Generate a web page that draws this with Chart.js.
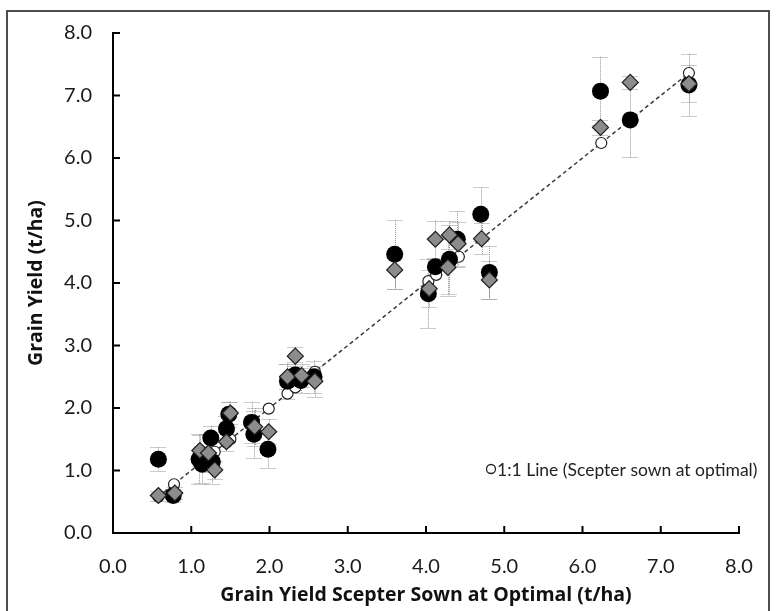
<!DOCTYPE html>
<html>
<head>
<meta charset="utf-8">
<script src="https://cdn.jsdelivr.net/npm/chart.js@4.4.1/dist/chart.umd.min.js"></script>
<style>
  html, body { margin: 0; padding: 0; background: #fff; }
  #wrap { position: relative; width: 776px; height: 611px; }
  canvas { display: block; }
</style>
</head>
<body>
<div id="wrap"><canvas id="chart" width="776" height="611"></canvas></div>
<script>
// Grain yield of each treatment against Scepter sown at the optimal time (t/ha)
const tickLabels = ['0.0', '1.0', '2.0', '3.0', '4.0', '5.0', '6.0', '7.0', '8.0'];

// Black circles
const blackX   = [0.58, 0.77, 1.10, 1.14, 1.27, 1.25, 1.45, 1.48, 1.77, 1.80, 1.98, 2.23, 2.33, 2.40, 2.57, 3.60, 4.03, 4.12, 4.30, 4.40, 4.70, 4.81, 6.23, 6.61, 7.36];
const blackY   = [1.18, 0.60, 1.18, 1.10, 1.14, 1.52, 1.67, 1.90, 1.77, 1.58, 1.34, 2.43, 2.53, 2.44, 2.50, 4.46, 3.83, 4.26, 4.38, 4.70, 5.10, 4.17, 7.07, 6.61, 7.17];
const blackErr = [0.19, 0.10, 0.40, 0.30, 0.35, 0.20, 0.20, 0.20, 0.33, 0.38, 0.30, 0.28, 0.20, 0.20, 0.26, 0.55, 0.55, 0.12, 0.55, 0.45, 0.43, 0.42, 0.55, 0.60, 0.50];

// Grey diamonds
const diamondX   = [0.58, 0.79, 1.11, 1.22, 1.30, 1.45, 1.50, 1.81, 1.99, 2.23, 2.33, 2.41, 2.58, 3.60, 4.04, 4.12, 4.30, 4.28, 4.41, 4.71, 4.81, 6.23, 6.61, 7.36];
const diamondY   = [0.60, 0.64, 1.32, 1.28, 1.01, 1.46, 1.92, 1.70, 1.62, 2.50, 2.83, 2.52, 2.43, 4.21, 3.91, 4.70, 4.77, 4.25, 4.63, 4.71, 4.05, 6.49, 7.21, 7.19];
const diamondErr = [0.08, 0.10, 0.25, 0.30, 0.15, 0.15, 0.18, 0.30, 0.20, 0.20, 0.15, 0.18, 0.25, 0.30, 0.30, 0.30, 0.22, 0.45, 0.35, 0.25, 0.30, 0.12, 0.10, 0.30];

// Scepter sown at optimal: plotted against itself it forms the 1:1 line
const optimal = [0.58, 0.78, 1.11, 1.14, 1.22, 1.27, 1.30, 1.45, 1.50, 1.77, 1.80, 1.99, 2.23, 2.33, 2.41, 2.58, 4.03, 4.13, 4.30, 4.42, 4.71, 6.24, 6.61, 7.36];

const lineLabel = '1:1 Line (Scepter sown at optimal)';

function points(xs, ys) { return xs.map((x, i) => ({ x: x, y: ys[i] })); }

const FONT = 'Lato, "Open Sans", sans-serif';
const TITLE_FONT = '"Open Sans", Lato, sans-serif';

// white page with a thin dark frame
const framePlugin = {
  id: 'frame',
  beforeDraw(chart) {
    const ctx = chart.ctx;
    ctx.save();
    ctx.fillStyle = '#fff';
    ctx.fillRect(0, 0, chart.width, chart.height);
    ctx.strokeStyle = '#4d4d4d';
    ctx.lineWidth = 2;
    ctx.strokeRect(7, 11, 762, 640);
    ctx.restore();
  }
};

// dotted vertical error bars with caps, behind the markers
const errorBarPlugin = {
  id: 'errorBars',
  beforeDatasetsDraw(chart) {
    const ctx = chart.ctx;
    const xs = chart.scales.x, ys = chart.scales.y;
    ctx.save();
    ctx.strokeStyle = '#969696';
    ctx.lineWidth = 1;
    ctx.setLineDash([1, 1]);
    chart.data.datasets.forEach(ds => {
      if (!ds.errors) return;
      ds.data.forEach((p, i) => {
        const e = ds.errors[i];
        const px = Math.round(xs.getPixelForValue(p.x)) + 0.5;
        const top = ys.getPixelForValue(p.y + e);
        const bot = ys.getPixelForValue(p.y - e);
        ctx.beginPath();
        ctx.moveTo(px, top); ctx.lineTo(px, bot);
        ctx.moveTo(px - 8, Math.round(top) + 0.5); ctx.lineTo(px + 8, Math.round(top) + 0.5);
        ctx.moveTo(px - 8, Math.round(bot) + 0.5); ctx.lineTo(px + 8, Math.round(bot) + 0.5);
        ctx.stroke();
      });
    });
    ctx.restore();
  }
};

// tick marks pointing into the plot, and the in-plot key
const ticksAndKeyPlugin = {
  id: 'ticksAndKey',
  afterDraw(chart) {
    const ctx = chart.ctx;
    const xs = chart.scales.x, ys = chart.scales.y;
    const area = chart.chartArea;
    ctx.save();
    ctx.strokeStyle = '#000';
    ctx.lineWidth = 2;
    ctx.beginPath();
    xs.ticks.forEach(t => {
      const px = xs.getPixelForValue(t.value);
      ctx.moveTo(px, area.bottom); ctx.lineTo(px, area.bottom - 7);
    });
    ys.ticks.forEach(t => {
      const py = ys.getPixelForValue(t.value);
      ctx.moveTo(area.left, py); ctx.lineTo(area.left + 7, py);
    });
    ctx.stroke();

    // key for the 1:1 series
    const kx = 491, ky = 469;
    ctx.beginPath();
    ctx.arc(kx, ky, 4.5, 0, Math.PI * 2);
    ctx.fillStyle = '#fff';
    ctx.fill();
    ctx.lineWidth = 1.3;
    ctx.strokeStyle = '#222';
    ctx.stroke();
    ctx.fillStyle = '#222';
    ctx.font = '17.5px ' + FONT;
    ctx.textAlign = 'left';
    ctx.textBaseline = 'middle';
    ctx.fillText(lineLabel, kx + 6, ky + 1);
    ctx.restore();
  }
};

new Chart(document.getElementById('chart'), {
  type: 'scatter',
  data: {
    datasets: [
      {
        label: 'Diamonds',
        data: points(diamondX, diamondY),
        errors: diamondErr,
        pointStyle: 'rectRot',
        pointRadius: 8,
        pointHoverRadius: 8,
        backgroundColor: '#8c8c8c',
        borderColor: '#1e1e1e',
        borderWidth: 1.2
      },
      {
        label: 'Circles',
        data: points(blackX, blackY),
        errors: blackErr,
        pointStyle: 'circle',
        pointRadius: 8.5,
        pointHoverRadius: 8.5,
        backgroundColor: '#000',
        borderColor: '#000',
        borderWidth: 0
      },
      {
        label: lineLabel,
        data: points(optimal, optimal),
        showLine: true,
        borderDash: [4, 3],
        borderColor: '#3a3a3a',
        borderWidth: 1.5,
        pointStyle: 'circle',
        pointRadius: 5.5,
        pointHoverRadius: 5.5,
        pointBackgroundColor: '#fff',
        pointBorderColor: '#222',
        pointBorderWidth: 1.2,
        fill: false
      }
    ]
  },
  options: {
    responsive: false,
    animation: false,
    devicePixelRatio: 1,
    layout: { padding: { left: 0, top: 30, right: 37, bottom: 0 } },
    plugins: { legend: { display: false }, tooltip: { enabled: false } },
    scales: {
      x: {
        type: 'linear',
        min: 0, max: 8,
        afterFit(s) { s.height = 78; },
        grid: { display: false, drawTicks: false },
        border: { display: true, color: '#000', width: 2 },
        ticks: {
          stepSize: 1,
          padding: 22,
          color: '#1a1a1a',
          font: { family: FONT, size: 20 },
          callback: (v, i) => tickLabels[i]
        },
        title: {
          display: true,
          text: 'Grain Yield Scepter Sown at Optimal (t/ha)',
          color: '#111',
          font: { family: TITLE_FONT, size: 19.5, weight: 'bold' },
          padding: { top: 0, bottom: 4 }
        }
      },
      y: {
        type: 'linear',
        min: 0, max: 8,
        afterFit(s) { s.width = 113; },
        grid: { display: false, drawTicks: false },
        border: { display: true, color: '#000', width: 2 },
        ticks: {
          stepSize: 1,
          padding: 21,
          color: '#1a1a1a',
          font: { family: FONT, size: 20 },
          callback: (v, i) => tickLabels[i]
        },
        title: {
          display: true,
          text: 'Grain Yield (t/ha)',
          color: '#111',
          font: { family: TITLE_FONT, size: 19.5, weight: 'bold' },
          padding: { top: 25, bottom: 0 }
        }
      }
    }
  },
  plugins: [framePlugin, errorBarPlugin, ticksAndKeyPlugin]
});
</script>
</body>
</html>
